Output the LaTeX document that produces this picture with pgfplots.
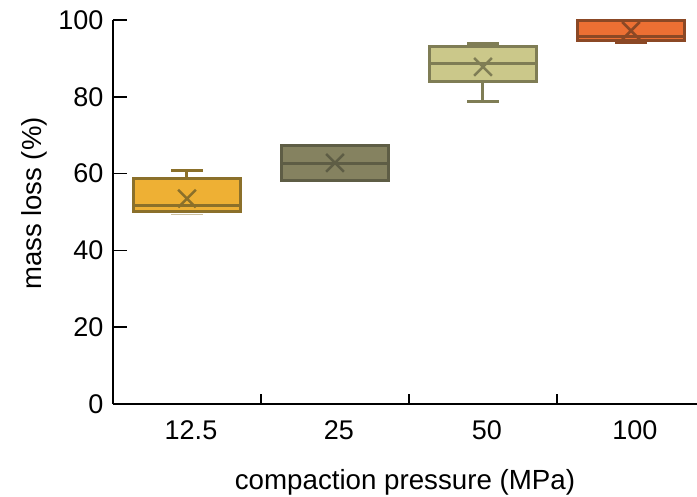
\documentclass[border=0pt]{standalone}
\usepackage{pgfplots}
\pgfplotsset{compat=1.18}
\usepackage{fontspec}
\setmainfont{Liberation Sans}
\definecolor{f1}{RGB}{238,176,52}
\definecolor{d1}{RGB}{139,112,42}
\definecolor{f2}{RGB}{133,130,96}
\definecolor{d2}{RGB}{94,93,69}
\definecolor{f3}{RGB}{203,200,138}
\definecolor{d3}{RGB}{127,125,85}
\definecolor{f4}{RGB}{236,111,51}
\definecolor{d4}{RGB}{139,72,37}
\begin{document}
\begin{tikzpicture}[font=\fontsize{27bp}{32bp}\selectfont]
\begin{axis}[
  name=ax,
  scale only axis,
  width=584bp, height=384bp,
  xmin=-0.5, xmax=3.446,
  ymin=0, ymax=100,
  axis lines*=left,
  axis line style={line width=1.5bp, black},
  tick align=inside,
  tick style={line width=1.5bp, black},
  major tick length=14bp,
  minor tick length=10bp,
  ytick={0,20,40,60,80,100},
  xtick={0,1,2,3},
  xticklabels={12.5,25,50,100},
  major x tick style={draw=none},
  minor xtick={0.5,1.5,2.5},
  yticklabel style={xshift=-6bp},
  xticklabel style={yshift=-13bp, xshift=4bp},
  /pgf/number format/assume math mode=true,
  xlabel={compaction pressure (MPa)},
  ylabel={mass loss (\%)},
  x label style={at={(axis description cs:0.5,-0.203)}, anchor=center, font=\fontsize{27.7bp}{32bp}\selectfont},
  y label style={at={(axis description cs:-0.135,0.522)}, anchor=center, rotate=0, font=\fontsize{27.5bp}{32bp}\selectfont},
  clip=false,
  every axis plot/.append style={line width=3bp},
]
% ---- 12.5 MPa
\addplot[d1] coordinates {(0,58.6) (0,60.8)};
\addplot[d1] coordinates {(-0.108,60.8) (0.108,60.8)};
\addplot[d1!45, line width=1.5bp] coordinates {(-0.108,49.3) (0.108,49.3)};
\addplot[draw=d1, fill=f1] coordinates {(-0.36,50.0) (0.36,50.0) (0.36,58.6) (-0.36,58.6)} -- cycle;
\addplot[d1] coordinates {(-0.36,51.6) (0.36,51.6)};
% ---- 25 MPa
\addplot[draw=d2, fill=f2] coordinates {(0.64,58.1) (1.36,58.1) (1.36,67.3) (0.64,67.3)} -- cycle;
\addplot[d2] coordinates {(0.64,62.6) (1.36,62.6)};
% ---- 50 MPa
\addplot[d3] coordinates {(2,83.9) (2,78.9)};
\addplot[d3] coordinates {(1.892,78.9) (2.108,78.9)};
\addplot[d3] coordinates {(1.892,93.9) (2.108,93.9)};
\addplot[draw=d3, fill=f3] coordinates {(1.64,83.9) (2.36,83.9) (2.36,93.1) (1.64,93.1)} -- cycle;
\addplot[d3] coordinates {(1.64,88.6) (2.36,88.6)};
% ---- 100 MPa
\addplot[d4] coordinates {(2.892,94.1) (3.108,94.1)};
\addplot[draw=d4, fill=f4] coordinates {(2.64,94.7) (3.36,94.7) (3.36,99.9) (2.64,99.9)} -- cycle;
\addplot[d4] coordinates {(2.64,95.8) (3.36,95.8)};
% ---- means
\addplot[only marks, mark=x, mark size=12.5bp, line width=2.5bp, d1] coordinates {(0,53.5)};
\addplot[only marks, mark=x, mark size=12.5bp, line width=2.5bp, d2] coordinates {(1,62.8)};
\addplot[only marks, mark=x, mark size=12.5bp, line width=2.5bp, d3] coordinates {(2,87.8)};
\addplot[only marks, mark=x, mark size=12.5bp, line width=2.5bp, d4] coordinates {(3,97.2)};
\end{axis}
\pgfresetboundingbox
\path ([shift={(-113bp,-93bp)}]ax.south west) rectangle ([shift={(584bp,404bp)}]ax.south west);
\end{tikzpicture}
\end{document}
